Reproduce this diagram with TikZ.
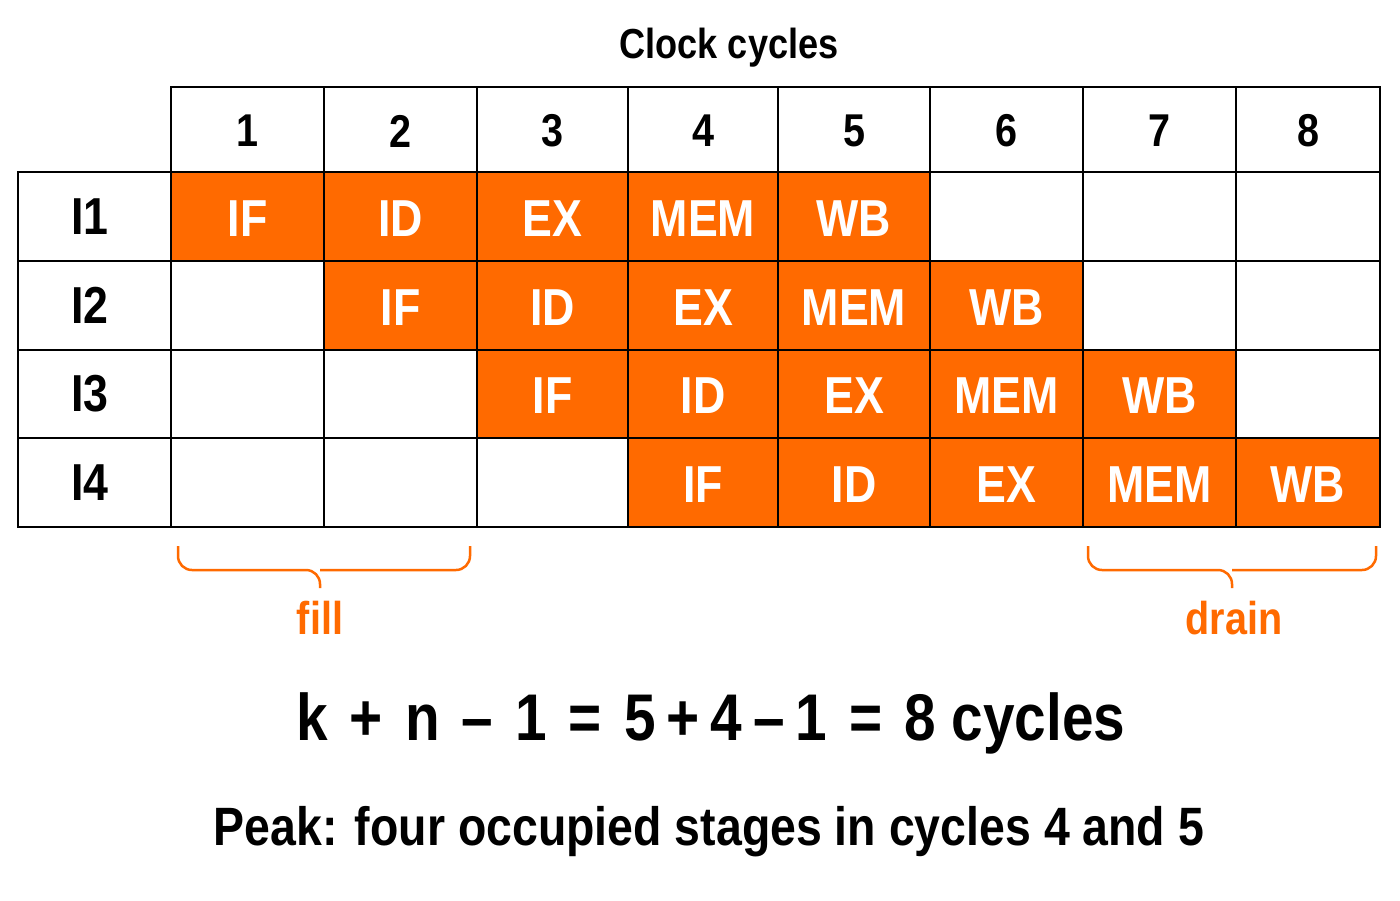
\documentclass[tikz,border=0pt]{standalone}
\usepackage{fontspec}
\setmainfont{Liberation Sans}[FakeStretch=0.86]
\begin{document}
\begin{tikzpicture}[x=1pt,y=-1pt,
  cell/.style={draw=black,line width=2.5pt},
  occ/.style={cell,fill=orng},
  lab/.style={font=\bfseries\fontsize{52}{52}\selectfont},
  wlab/.style={lab,text=white},
  brace/.style={draw=orng,line width=2.5pt,rounded corners=14pt}]
\definecolor{orng}{HTML}{FF6A00}
\useasboundingbox[fill=white] (0,0) rectangle (1400,900);
\def\xs{{18,171,324,477,628,778,930,1083,1236,1380}}
\def\ys{{87,172,261,350,438,527}}
\node[font=\bfseries\fontsize{42}{42}\selectfont] (title) at (729,48) {Clock cycles};
% header
\foreach \c in {1,...,8}{
  \pgfmathsetmacro\xa{\xs[\c]}\pgfmathsetmacro\xb{\xs[\c+1]}
  \draw[cell] (\xa,87) rectangle (\xb,172);
  \node[font=\bfseries\fontsize{46}{46}\selectfont] (h\c) at ({(\xa+\xb)/2},131) {\c};
}
% rows
\foreach \r in {1,...,4}{
  \pgfmathsetmacro\ya{\ys[\r]}\pgfmathsetmacro\yb{\ys[\r+1]}
  \draw[cell] (18,\ya) rectangle (171,\yb);
  \node[lab] (i\r) at (90,{(\ya+\yb)/2}) {I\r};
  \foreach \c in {1,...,8}{
    \pgfmathsetmacro\xa{\xs[\c]}\pgfmathsetmacro\xb{\xs[\c+1]}
    \pgfmathtruncatemacro\s{\c-\r}
    \ifnum\s<0 \draw[cell] (\xa,\ya) rectangle (\xb,\yb);
    \else\ifnum\s>4 \draw[cell] (\xa,\ya) rectangle (\xb,\yb);
    \else
      \draw[occ] (\xa,\ya) rectangle (\xb,\yb);
      \ifcase\s \def\t{IF}\or\def\t{ID}\or\def\t{EX}\or\def\t{MEM}\or\def\t{WB}\fi
      \node[wlab] (c\r\c) at ({(\xa+\xb)/2},{(\ya+\yb)/2+2}) {\t};
    \fi\fi
  }
}
% braces
\draw[brace] (178,546) -- (178,570) -- (320,570) -- (320,588);
\draw[brace] (470,546) -- (470,570) -- (320,570);
\draw[brace] (1088,546) -- (1088,570) -- (1232,570) -- (1232,588);
\draw[brace] (1376,546) -- (1376,570) -- (1232,570);
\node[font=\bfseries\fontsize{46}{46}\selectfont,text=orng] (fill) at (320,618) {fill};
\node[font=\bfseries\fontsize{46}{46}\selectfont,text=orng] (drain) at (1234,618) {drain};
\node[font=\bfseries\fontsize{66}{66}\selectfont] (eq) at (711,723) {k\,\,+\,\,n\,\,–\,\,1\,\,=\,\,5\,+\,4\,–\,1\,\,=\,\,8 cycles};
\node[font=\bfseries\fontsize{54}{54}\selectfont] (peak) at (709,832) {Peak: four occupied stages in cycles 4 and 5};
\end{tikzpicture}
\end{document}
